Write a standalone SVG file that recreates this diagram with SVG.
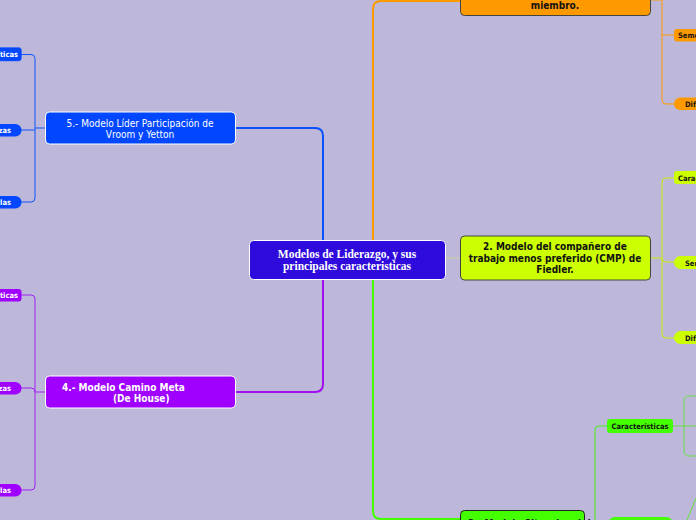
<svg xmlns="http://www.w3.org/2000/svg" width="696" height="520" viewBox="0 0 696 520">
<style>
.bg{fill:#BDB8DA}
.main{fill:none;stroke-width:2}
.sub{fill:none;stroke-width:1}
.t{font-family:"DejaVu Sans Condensed","DejaVu Sans",sans-serif;font-size:10px}
.b{font-weight:bold}
.pt{font-family:"DejaVu Sans Condensed","DejaVu Sans",sans-serif;font-size:7.5px;font-weight:bold}
.w{fill:#FFFFFF}
.k{fill:#111111}
.ctr{font-family:"Liberation Serif","DejaVu Serif",serif;font-size:11.5px;font-weight:bold;fill:#FFFFFF}
</style>
<rect class="bg" x="0" y="0" width="696" height="520"/>
<g id="connectors">
  <path class="main" stroke="#0A50FF" d="M235,128 H315 Q323,128 323,136 V240"/>
  <path class="main" stroke="#A010F0" d="M235,392 H315 Q323,392 323,384 V280"/>
  <path class="main" stroke="#FF9900" d="M373,240 V9 Q373,1 381,1 H460"/>
  <path class="main" stroke="#44FF00" d="M373,280 V511 Q373,519 381,519 H460"/>
  <path class="sub" stroke="#CFCFA0" d="M446,258 H460"/>
  <path class="sub" stroke="#1155FF" d="M21,54.5 H31 Q35,54.5 35,58.5 V198 Q35,202 31,202 H21 M21,130 H35 M35,128 H45"/>
  <path class="sub" stroke="#A020F0" d="M21,295 H31 Q35,295 35,299 V486 Q35,490 31,490 H21 M21,388 H31 Q35,388 35,392 M35,392 H45"/>
  <path class="sub" stroke="#FF9900" d="M662,0 V100 Q662,104 666,104 H674 M662,35 H674 M651,0 H662"/>
  <path class="sub" stroke="#CCEE00" d="M674,178 H666 Q662,178 662,182 V334 Q662,338 666,338 H674 M651,258 H662 M662,258 Q662,262 666,262 H674"/>
  <path class="sub" stroke="#44EE11" d="M607,426 H599 Q595,426 595,430 V520"/>
  <path class="sub" stroke="#66E044" d="M673,426 H696 M696,396 H689 Q684,396 684,401 V451 Q684,456 689,456 H696 M687,520 L696,498"/>
</g>
<g id="central">
  <rect x="249.5" y="240.5" width="196" height="39" rx="4" fill="#2E0BDC" stroke="#FFFFFF" stroke-width="1"/>
  <text class="ctr" x="347" y="257.5" text-anchor="middle">Modelos de Liderazgo, y sus</text>
  <text class="ctr" x="347" y="269.5" text-anchor="middle">principales caracteristicas</text>
</g>
<g id="node5">
  <rect x="45.5" y="112" width="190" height="32" rx="4" fill="#0047FF" stroke="#FFFFFF" stroke-width="1"/>
  <text class="t w" x="140" y="126.5" text-anchor="middle">5.- Modelo Líder Participación de</text>
  <text class="t w" x="140" y="137.5" text-anchor="middle">Vroom y Yetton</text>
</g>
<g id="node5-c1">
  <rect x="-20" y="47.5" width="41.5" height="13.5" rx="3" fill="#0047FF" stroke="#3366FF" stroke-width="0.5"/>
  <text class="pt w" x="18" y="57.2" text-anchor="end">Características</text>
</g>
<g id="node5-c2">
  <rect x="-20" y="124" width="41.5" height="12.5" rx="6.25" fill="#0047FF"/>
  <text class="pt w" x="11" y="133" text-anchor="end">Semejanzas</text>
</g>
<g id="node5-c3">
  <rect x="-20" y="196" width="41.5" height="12.5" rx="6.25" fill="#0047FF"/>
  <text class="pt w" x="11" y="205" text-anchor="end">Fallas</text>
</g>
<g id="node4">
  <rect x="45.5" y="376" width="190" height="32" rx="4" fill="#A000FF" stroke="#FFFFFF" stroke-width="1"/>
  <text class="t b w" x="62" y="390.5">4.- Modelo Camino Meta</text>
  <text class="t b w" x="113" y="401.5">(De House)</text>
</g>
<g id="node4-c1">
  <rect x="-20" y="289" width="41.5" height="12.5" rx="3" fill="#A000FF"/>
  <text class="pt w" x="18" y="298.2" text-anchor="end">Características</text>
</g>
<g id="node4-c2">
  <rect x="-20" y="382" width="41.5" height="12.5" rx="6.25" fill="#A000FF"/>
  <text class="pt w" x="11" y="391" text-anchor="end">Semejanzas</text>
</g>
<g id="node4-c3">
  <rect x="-20" y="484" width="41.5" height="12.5" rx="6.25" fill="#A000FF"/>
  <text class="pt w" x="11" y="493" text-anchor="end">Fallas</text>
</g>
<g id="node1">
  <rect x="460.5" y="-30" width="190" height="45.5" rx="4" fill="#FF9900" stroke="#444444" stroke-width="1"/>
  <text class="t b k" x="555" y="8.5" text-anchor="middle">miembro.</text>
</g>
<g id="node1-c1">
  <rect x="674" y="29" width="40" height="12.5" rx="3" fill="#FF9900"/>
  <text class="pt k" x="678" y="38">Semejanzas</text>
</g>
<g id="node1-c2">
  <rect x="674" y="97.5" width="40" height="12.5" rx="6.25" fill="#FF9900"/>
  <text class="pt k" x="685" y="106.5">Diferencias</text>
</g>
<g id="node2">
  <rect x="460.5" y="236" width="190" height="44" rx="4" fill="#CCFF00" stroke="#444444" stroke-width="1"/>
  <text class="t b k" x="555" y="250.3" text-anchor="middle">2. Modelo del compañero de</text>
  <text class="t b k" x="555" y="261.5" text-anchor="middle">trabajo menos preferido (CMP) de</text>
  <text class="t b k" x="555" y="272.7" text-anchor="middle">Fiedler.</text>
</g>
<g id="node2-c1">
  <rect x="674" y="171" width="40" height="13" rx="3" fill="#CCFF00"/>
  <text class="pt k" x="678" y="180.5">Características</text>
</g>
<g id="node2-c2">
  <rect x="674" y="256" width="40" height="13" rx="6.5" fill="#CCFF00"/>
  <text class="pt k" x="685" y="265.5">Semejanzas</text>
</g>
<g id="node2-c3">
  <rect x="674" y="331" width="40" height="13" rx="6.5" fill="#CCFF00"/>
  <text class="pt k" x="685" y="340.5">Diferencias</text>
</g>
<g id="node3">
  <rect x="460.5" y="510.5" width="124" height="40" rx="4" fill="#44FF00" stroke="#222222" stroke-width="1"/>
  <text class="t b k" x="468" y="526.5">3.- Modelo Situacional de</text>
</g>
<g id="node3-c1">
  <rect x="607" y="419" width="66" height="14" rx="3" fill="#44FF00"/>
  <text class="pt k" x="640" y="429" text-anchor="middle">Características</text>
</g>
<g id="node3-c2">
  <rect x="608" y="517" width="65" height="14" rx="7" fill="#44FF00"/>
</g>
</svg>
